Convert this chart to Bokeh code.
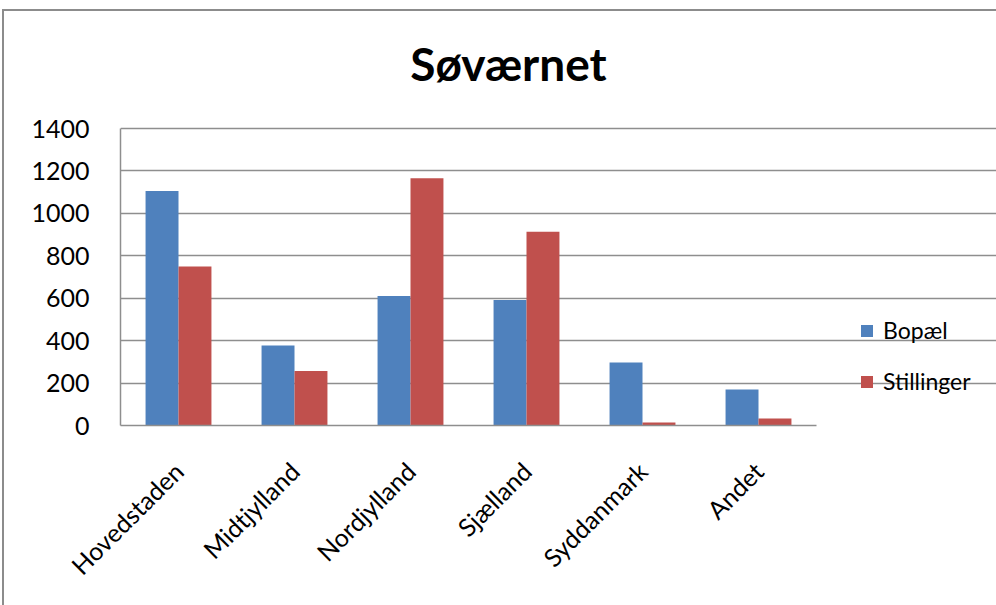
import math
from bokeh.plotting import figure
from bokeh.models import (Range1d, Legend, LegendItem, ColumnDataSource,
                          FixedTicker, Label)
from bokeh.embed import file_html
from bokeh.resources import INLINE

categories = ["Hovedstaden", "Midtjylland", "Nordjylland", "Sjælland", "Syddanmark", "Andet"]
bopael = [1105, 377, 610, 591, 297, 170]
stillinger = [750, 257, 1165, 913, 14, 33]
series_names = ["Bopæl", "Stillinger"]
series_colors = ["#4F81BD", "#C0504D"]
y_ticks = [0, 200, 400, 600, 800, 1000, 1200, 1400]
y_max = 1400
title_text = "Søværnet"

FONT = "Lato"
GRID = "#8e8e8e"

n = len(categories)
centers = [i + 0.5 for i in range(n)]
bw = 0.284
src = ColumnDataSource(dict(
    x_b=[c - bw / 2 for c in centers], x_s=[c + bw / 2 for c in centers],
    bopael=bopael, stillinger=stillinger))

# frame spans page x 120..996 (876 px), each category 116 px wide;
# frame spans page y 11..425, the value axis 0..1400 uses the lowest 297 px
x_end = 876 / 116.0
y_end = y_max * 414 / 297.0

p = figure(width=992, height=594,
           x_range=Range1d(0, x_end),
           y_range=Range1d(0, y_end),
           output_backend="svg", toolbar_location=None,
           min_border_left=116, min_border_right=0,
           min_border_top=0, min_border_bottom=180)
p.margin = (11, 0, 0, 4)
p.styles = {"outline": "2px solid #8c8c8c"}

r1 = p.vbar(x="x_b", top="bopael", width=bw, source=src,
            fill_color=series_colors[0], line_color=None)
r2 = p.vbar(x="x_s", top="stillinger", width=bw, source=src,
            fill_color=series_colors[1], line_color=None)

p.outline_line_color = None
p.background_fill_color = "white"
p.border_fill_color = "white"

p.xgrid.grid_line_color = None
p.ygrid.grid_line_color = GRID
p.ygrid.grid_line_width = 1.5
p.ygrid.bounds = (0, n)
p.yaxis.ticker = FixedTicker(ticks=y_ticks)
p.yaxis.bounds = (0, y_max)

p.xaxis.ticker = FixedTicker(ticks=centers)
p.xaxis.major_label_overrides = {c: lab for c, lab in zip(centers, categories)}
p.xaxis.bounds = (0, n)

for ax in (p.xaxis[0], p.yaxis[0]):
    ax.axis_line_color = GRID
    ax.axis_line_width = 1.5
    ax.major_tick_line_color = None
    ax.minor_tick_line_color = None
    ax.major_label_text_font = FONT
    ax.major_label_text_font_size = "25px"
    ax.major_label_text_color = "black"

p.yaxis.major_label_standoff = 25
p.xaxis.major_label_standoff = 35
p.xaxis.major_label_orientation = math.pi / 4

p.add_layout(Label(x=388, y=362, x_units="screen", y_units="screen",
                   text=title_text, text_align="center",
                   text_baseline="alphabetic",
                   text_font=FONT, text_font_size="46px",
                   text_font_style="bold", text_color="black"))

legend = Legend(items=[LegendItem(label=series_names[0], renderers=[r1]),
                       LegendItem(label=series_names[1], renderers=[r2])],
                location=(739, 29), padding=0, margin=0,
                border_line_color=None, background_fill_alpha=0,
                glyph_width=15, glyph_height=15, label_height=30,
                spacing=21, label_standoff=9,
                label_text_font=FONT, label_text_font_size="23px",
                label_text_color="black")
p.add_layout(legend, "center")

open("out.html", "w").write(file_html(p, INLINE))
